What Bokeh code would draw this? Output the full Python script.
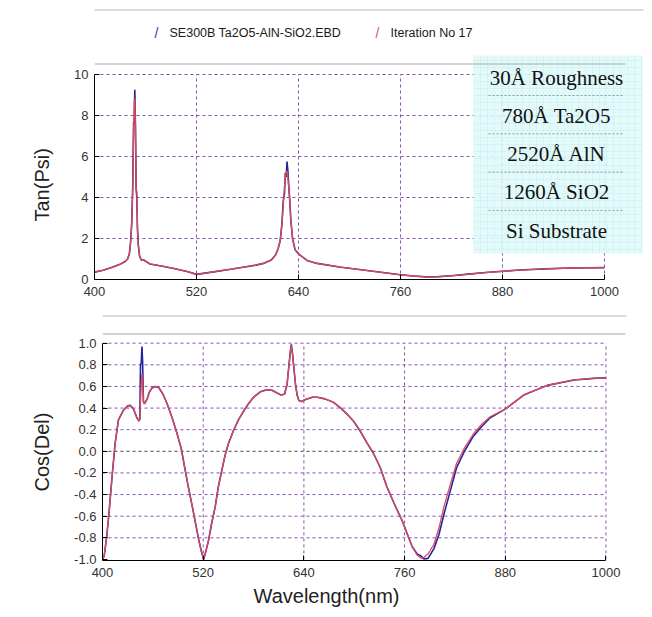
from bokeh.plotting import figure
from bokeh.models import FixedTicker, PrintfTickFormatter, Label, BoxAnnotation, Range1d, Title
from bokeh.embed import file_html
from bokeh.resources import INLINE

# ---------------- data ----------------
psi_wl = [400, 410, 420, 430, 436, 439, 441, 442.5, 443.8, 445, 446, 446.8, 447.4, 448.2,
          449, 449.8, 450.5, 451.5, 453, 455, 458, 465, 480, 495, 510, 520,
          540, 560, 575, 590, 600, 608, 613, 616, 618.5, 620.5, 622, 623.5, 624.5, 625.5,
          626.5, 627.5, 628.5, 629.5, 631, 633, 636, 640, 650, 660, 690, 728, 760, 775,
          790, 805, 820, 840, 860, 880, 900, 930, 960, 1000]
psi_fit = [0.36, 0.45, 0.58, 0.74, 0.88, 1.0, 1.25, 1.8, 2.7, 4.4, 7.3, 8.8, 8.8, 7.4,
           4.4, 4.3, 2.6, 1.7, 1.15, 0.95, 0.95, 0.76, 0.65, 0.52, 0.38, 0.25,
           0.37, 0.5, 0.6, 0.7, 0.8, 0.95, 1.2, 1.5, 1.9, 2.7, 3.6, 4.5, 5.0, 5.2,
           5.3, 5.0, 4.5, 4.0, 2.9, 2.0, 1.45, 1.25, 0.93, 0.8, 0.6, 0.4, 0.23, 0.17,
           0.13, 0.14, 0.18, 0.26, 0.34, 0.4, 0.46, 0.52, 0.56, 0.58]
psi_meas = [0.36, 0.45, 0.58, 0.74, 0.88, 1.0, 1.25, 1.85, 2.75, 4.6, 7.7, 7.6, 9.25, 7.5,
            4.4, 4.0, 2.5, 1.7, 1.15, 0.95, 0.95, 0.76, 0.65, 0.52, 0.38, 0.25,
            0.37, 0.5, 0.6, 0.7, 0.8, 0.95, 1.2, 1.5, 1.9, 2.7, 3.8, 4.2, 5.2, 5.0,
            5.75, 5.3, 4.6, 4.0, 2.9, 2.0, 1.45, 1.25, 0.93, 0.8, 0.6, 0.4, 0.23, 0.17,
            0.13, 0.14, 0.18, 0.26, 0.34, 0.4, 0.46, 0.52, 0.56, 0.58]

del_wl = [400, 402, 405, 408, 411, 415, 419, 425, 430, 433, 437, 441, 443.5, 444.5,
          445.3, 446.2, 447.0, 447.8, 448.8, 450, 453, 456, 459, 463, 467, 472, 477,
          483, 489, 494, 497, 502, 507, 511, 515, 518, 520.5, 523, 526.5, 530, 534.4,
          538, 542.4, 546, 550, 556, 562, 568, 574, 580, 588, 596, 602, 608, 613, 617,
          620, 622, 624, 625, 626.5, 628, 630, 632, 634, 637, 642, 650, 656, 665, 675,
          684, 692, 699, 707, 715, 723, 731, 739, 748, 757, 763, 769, 775, 780, 783,
          788, 795, 801, 807, 814, 822, 832, 842, 852, 862, 880, 902, 930, 962, 985, 1000]
del_fit = [-1.0, -0.97, -0.79, -0.55, -0.27, 0.07, 0.29, 0.38, 0.42, 0.425, 0.39, 0.31, 0.28, 0.30,
           0.45, 0.62, 0.72, 0.65, 0.46, 0.44, 0.48, 0.55, 0.585, 0.60, 0.59, 0.53, 0.44,
           0.31, 0.16, 0.02, -0.11, -0.32, -0.51, -0.67, -0.83, -0.93, -1.0, -0.93, -0.82, -0.67, -0.51,
           -0.33, -0.17, -0.04, 0.07, 0.19, 0.29, 0.37, 0.44, 0.50, 0.55, 0.57, 0.565, 0.54, 0.52, 0.53,
           0.62, 0.78, 0.93, 0.98, 0.9, 0.78, 0.62, 0.52, 0.47, 0.46, 0.48, 0.50, 0.50, 0.485, 0.455,
           0.40, 0.34, 0.28, 0.19, 0.08, -0.02, -0.15, -0.33, -0.49, -0.64, -0.76, -0.88, -0.96, -0.99, -0.98,
           -0.95, -0.86, -0.71, -0.51, -0.32, -0.11, 0.04, 0.16, 0.25, 0.32, 0.39, 0.52, 0.61, 0.66, 0.675, 0.68]
del_meas = [-1.0, -0.97, -0.79, -0.55, -0.27, 0.07, 0.29, 0.38, 0.42, 0.425, 0.39, 0.31, 0.28, 0.30,
            0.80, 0.82, 0.97, 0.83, 0.46, 0.44, 0.48, 0.55, 0.585, 0.60, 0.59, 0.53, 0.44,
            0.31, 0.16, 0.02, -0.11, -0.32, -0.51, -0.67, -0.83, -0.93, -1.0, -0.93, -0.82, -0.67, -0.51,
            -0.33, -0.17, -0.04, 0.07, 0.19, 0.29, 0.37, 0.44, 0.50, 0.55, 0.57, 0.565, 0.54, 0.52, 0.53,
            0.62, 0.78, 0.93, 0.99, 0.9, 0.78, 0.62, 0.52, 0.47, 0.46, 0.48, 0.50, 0.50, 0.485, 0.455,
            0.40, 0.34, 0.28, 0.19, 0.08, -0.02, -0.15, -0.33, -0.49, -0.64, -0.76, -0.88, -0.95, -0.97, -0.995,
            -0.99, -0.9, -0.77, -0.58, -0.38, -0.15, 0.01, 0.14, 0.23, 0.31, 0.39, 0.52, 0.61, 0.66, 0.675, 0.68]

x_ticks = [400, 520, 640, 760, 880, 1000]
psi_ticks = [0, 2, 4, 6, 8, 10]
del_ticks = [-1.0, -0.8, -0.6, -0.4, -0.2, 0.0, 0.2, 0.4, 0.6, 0.8, 1.0]
series_names = ["SE300B Ta2O5-AlN-SiO2.EBD", "Iteration No 17"]
layer_stack = ["30Å Roughness", "780Å Ta2O5", "2520Å AlN", "1260Å SiO2", "Si Substrate"]
x_title = "Wavelength(nm)"
y_titles = ["Tan(Psi)", "Cos(Del)"]

# ---------------- styles ----------------
MEAS_COLOR = "#2424a0"
FIT_COLOR = "#e04a52"
GRID_COLOR = "#8a4fb5"
FONT = "Liberation Sans"
FRAME_GRAY = "#a8a8a8"
W = 652
CANVAS = dict(left_units="canvas", right_units="canvas", top_units="canvas", bottom_units="canvas")


def style_axes(p, xb, yb):
    for ax in (p.xaxis[0], p.yaxis[0]):
        ax.axis_line_color = "black"
        ax.major_tick_line_color = "black"
        ax.major_tick_in = 5
        ax.major_tick_out = 0
        ax.minor_tick_line_color = None
        ax.major_label_text_font = FONT
        ax.major_label_text_font_size = "13px"
        ax.major_label_text_color = "#333333"
    p.xaxis[0].bounds = xb
    p.yaxis[0].bounds = yb
    p.xaxis[0].major_label_standoff = 7
    p.yaxis[0].major_label_standoff = 6
    p.xgrid.visible = False
    p.ygrid.visible = False
    p.outline_line_color = None


def side_title(p, text, side, offset, standoff):
    p.add_layout(Title(text=text, align="left", vertical_align="bottom" if side == "left" else "top",
                       offset=offset, standoff=standoff, text_font=FONT, text_font_size="20px",
                       text_font_style="normal", text_color="#222222"), side)


def grid(p, xs, ys, xb, yb, dark=None):
    p.segment(x0=xs, y0=yb[0], x1=xs, y1=yb[1], line_color=GRID_COLOR,
              line_dash="3 3", line_width=1)
    p.segment(x0=xb[0], y0=ys, x1=xb[1], y1=ys, line_color=GRID_COLOR,
              line_dash="3 3", line_width=1)
    if dark is not None:
        p.segment(x0=xb[0], y0=dark, x1=xb[1], y1=dark, line_color="#444444",
                  line_dash="3 3", line_width=1)


def hline(p, left, right, y, color=FRAME_GRAY):
    p.add_layout(BoxAnnotation(left=left, right=right, top=y, bottom=y + 1, **CANVAS,
                               fill_color=color, fill_alpha=1, line_color=None))


# ---------------- top: Tan(Psi) ----------------
p1 = figure(width=W, height=312, output_backend="svg", toolbar_location=None,
            x_range=Range1d(400, 1045.9), y_range=Range1d(0, 13.61),
            min_border_left=94, min_border_right=9, min_border_top=0, min_border_bottom=33)
p1.xaxis.ticker = FixedTicker(ticks=x_ticks)
p1.yaxis.ticker = FixedTicker(ticks=psi_ticks)
style_axes(p1, (x_ticks[0], x_ticks[-1]), (psi_ticks[0], psi_ticks[-1]))
side_title(p1, y_titles[0], "left", 58, 37)
grid(p1, x_ticks[1:], psi_ticks[1:], (x_ticks[0], x_ticks[-1]), (psi_ticks[0], psi_ticks[-1]))

p1.line(psi_wl, psi_meas, line_color=MEAS_COLOR, line_width=1.6)
p1.line(psi_wl, psi_fit, line_color=FIT_COLOR, line_width=1.3)

# outer panel edge
hline(p1, 0, 652, 9, "#b8b8b8")

# layer-stack box
p1.add_layout(BoxAnnotation(left=473, right=642, top=55, bottom=253, **CANVAS,
                            fill_color="#e0fafa", fill_alpha=0.9, line_color=None,
                            hatch_pattern="+", hatch_color="#c6ecf0", hatch_scale=7,
                            hatch_weight=0.6, hatch_alpha=0.8))
for i in range(4):
    ys = 95 + 38.3 * i
    p1.add_layout(BoxAnnotation(left=488, right=623, top=ys, bottom=ys, **CANVAS,
                                fill_color=None, line_color="#333333",
                                line_width=0.8, line_dash="2 2"))
for i, t in enumerate(layer_stack):
    p1.add_layout(Label(x=556, y=77 + 38.25 * i, x_units="canvas", y_units="canvas",
                        text=t, text_font="Liberation Serif", text_font_size="21px",
                        text_color="#111111", text_align="center", text_baseline="middle"))

hline(p1, 94, 625, 63)

# legend
leg_colors = ["#3a34b4", "#d6566a"]
leg_x = [156, 377]
for name, c, lx in zip(series_names, leg_colors, leg_x):
    p1.add_layout(Label(x=lx, y=32, x_units="canvas", y_units="canvas", text="/",
                        text_font=FONT, text_font_size="14px", text_color=c,
                        text_align="center", text_baseline="middle"))
    p1.add_layout(Label(x=lx + 13, y=32, x_units="canvas", y_units="canvas", text=name,
                        text_font=FONT, text_font_size="12.5px", text_color="#1a1a1a",
                        text_align="left", text_baseline="middle"))

# ---------------- bottom: Cos(Del) ----------------
p2 = figure(width=W, height=305, output_backend="svg", toolbar_location=None,
            x_range=Range1d(400, 1024.5), y_range=Range1d(-1.01, 1.284),
            min_border_left=102, min_border_right=26, min_border_top=0, min_border_bottom=57)
p2.xaxis.ticker = FixedTicker(ticks=x_ticks)
p2.yaxis.ticker = FixedTicker(ticks=del_ticks)
p2.yaxis.formatter = PrintfTickFormatter(format="%.1f")
style_axes(p2, (x_ticks[0], x_ticks[-1]), (del_ticks[0], del_ticks[-1]))
side_title(p2, y_titles[1], "left", 69, 37)
side_title(p2, x_title, "below", 151, 10)
grid(p2, x_ticks[1:], [t for t in del_ticks[1:] if t != 0.0],
     (x_ticks[0], x_ticks[-1]), (del_ticks[0], del_ticks[-1]), dark=0.0)

p2.line(del_wl, del_meas, line_color=MEAS_COLOR, line_width=1.6)
p2.line(del_wl, del_fit, line_color=FIT_COLOR, line_width=1.3)

# panel separator and inner frame edge
hline(p2, 0, 652, 3, "#b8b8b8")
hline(p2, 102, 625, 21)

open("out.html", "w").write(file_html((p1, p2), INLINE))
